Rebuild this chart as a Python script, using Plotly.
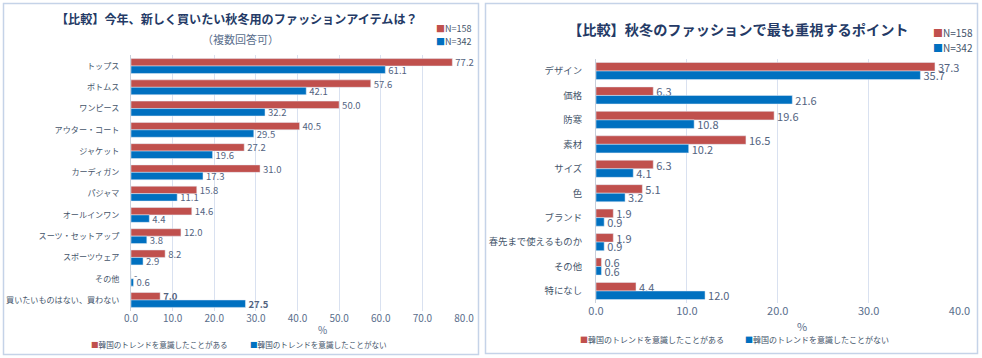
import plotly.graph_objects as go

# ---------------- data ----------------
left_categories = ["トップス", "ボトムス", "ワンピース", "アウター・コート", "ジャケット", "カーディガン",
                   "パジャマ", "オールインワン", "スーツ・セットアップ", "スポーツウェア", "その他",
                   "買いたいものはない、買わない"]
left_aware = [77.2, 57.6, 50.0, 40.5, 27.2, 31.0, 15.8, 14.6, 12.0, 8.2, 0.0, 7.0]
left_not_aware = [61.1, 42.1, 32.2, 29.5, 19.6, 17.3, 11.1, 4.4, 3.8, 2.9, 0.6, 27.5]
left_ticks = [0, 10, 20, 30, 40, 50, 60, 70, 80]

right_categories = ["デザイン", "価格", "防寒", "素材", "サイズ", "色", "ブランド",
                    "春先まで使えるものか", "その他", "特になし"]
right_aware = [37.3, 6.3, 19.6, 16.5, 6.3, 5.1, 1.9, 1.9, 0.6, 4.4]
right_not_aware = [35.7, 21.6, 10.8, 10.2, 4.1, 3.2, 0.9, 0.9, 0.6, 12.0]
right_ticks = [0, 10, 20, 30, 40]

series_names = ["韓国のトレンドを意識したことがある", "韓国のトレンドを意識したことがない"]
n_labels = ["N=158", "N=342"]
left_title = "【比較】今年、新しく買いたい秋冬用のファッションアイテムは？"
left_subtitle = "（複数回答可）"
right_title = "【比較】秋冬のファッションで最も重視するポイント"

# ---------------- style ----------------
W, H = 982, 358
RED = "#C0504D"
BLUE = "#0070C0"
TXT = "#44546A"
VAL = "#53637F"
TICK = "#5A6E8C"
GRID = "#D9E1F0"
TITLE = "#243A66"
FONT = "Noto Sans CJK JP"


def px_x(x):
    return x / W


def px_y(y):
    return 1 - y / H


def label_texts(vals, bold_last=False, zero_dash=False):
    out = []
    for i, v in enumerate(vals):
        if zero_dash and v == 0:
            s = "-"
        else:
            s = f"{v:.1f}"
        if bold_last and i == len(vals) - 1:
            s = f"<b>{s}</b>"
        out.append(s)
    return out


fig = go.Figure()

LV = 9.5
RV = 11
# left panel
fig.add_trace(go.Bar(y=left_categories, x=left_aware, orientation="h", marker_color=RED,
                     name=series_names[0], text=label_texts(left_aware, True, True),
                     textposition="outside", cliponaxis=False, constraintext="none",
                     textfont=dict(color=VAL, size=LV), xaxis="x", yaxis="y"))
fig.add_trace(go.Bar(y=left_categories, x=left_not_aware, orientation="h", marker_color=BLUE,
                     name=series_names[1], text=label_texts(left_not_aware, True),
                     textposition="outside", cliponaxis=False, constraintext="none",
                     textfont=dict(color=VAL, size=LV), xaxis="x", yaxis="y"))
# right panel
fig.add_trace(go.Bar(y=right_categories, x=right_aware, orientation="h", marker_color=RED,
                     name=series_names[0], text=label_texts(right_aware),
                     textposition="outside", cliponaxis=False, constraintext="none",
                     textfont=dict(color=VAL, size=RV), xaxis="x2", yaxis="y2"))
fig.add_trace(go.Bar(y=right_categories, x=right_not_aware, orientation="h", marker_color=BLUE,
                     name=series_names[1], text=label_texts(right_not_aware),
                     textposition="outside", cliponaxis=False, constraintext="none",
                     textfont=dict(color=VAL, size=RV), xaxis="x2", yaxis="y2"))

fig.update_layout(
    width=W, height=H,
    margin=dict(l=0, r=0, t=0, b=0, autoexpand=False),
    paper_bgcolor="white", plot_bgcolor="white",
    font=dict(family=FONT, color=TXT),
    showlegend=False,
    barmode="group", bargap=0.3, bargroupgap=0.0,
    xaxis=dict(domain=[px_x(131), px_x(464)], range=[0, 80], tickvals=left_ticks,
               ticktext=[f"{t:.1f}" for t in left_ticks], showgrid=True, gridcolor=GRID,
               gridwidth=1, zeroline=False, tickfont=dict(size=10, color=TICK),
               anchor="y", automargin=False),
    yaxis=dict(domain=[px_y(310.6), px_y(55.4)], autorange="reversed", type="category",
               tickfont=dict(size=8.1, color=TXT), ticklabelstandoff=9, showline=True,
               linecolor="#C8CFDA", anchor="x", automargin=False),
    xaxis2=dict(domain=[px_x(596), px_x(959.5)], range=[0, 40], tickvals=right_ticks,
                ticktext=[f"{t:.1f}" for t in right_ticks], showgrid=True, gridcolor=GRID,
                gridwidth=1, zeroline=False, tickfont=dict(size=11, color=TICK),
                anchor="y2", automargin=False),
    yaxis2=dict(domain=[px_y(303.2), px_y(58.8)], autorange="reversed", type="category",
                tickfont=dict(size=9.4, color=TXT), ticklabelstandoff=11, showline=True,
                linecolor="#C8CFDA", anchor="x2", automargin=False),
)

# panel borders
for x0, x1, y0, y1 in [(3.5, 478.5, 3.5, 354.5), (485.5, 977.5, 3.5, 353.5)]:
    fig.add_shape(type="rect", xref="paper", yref="paper", x0=px_x(x0), x1=px_x(x1),
                  y0=px_y(y1), y1=px_y(y0), line=dict(color="#C5D3E8", width=1.5),
                  fillcolor="rgba(0,0,0,0)", layer="below")

ann = []
P = dict(xref="paper", yref="paper", showarrow=False, yanchor="middle")
# titles
ann.append(dict(x=px_x(237), y=px_y(18), text=f"<b>{left_title}</b>",
                font=dict(size=12.1, color=TITLE), xanchor="center", **P))
ann.append(dict(x=px_x(240), y=px_y(39), text=left_subtitle,
                font=dict(size=11, color=TICK), xanchor="center", **P))
ann.append(dict(x=px_x(738), y=px_y(29), text=f"<b>{right_title}</b>",
                font=dict(size=14.2, color=TITLE), xanchor="center", **P))

# N legends
for (x, ys, size) in [(434, (28, 41), 9), (931, (32, 47), 10)]:
    for lab, col, yy in zip(n_labels, [RED, BLUE], ys):
        ann.append(dict(x=px_x(x), y=px_y(yy),
                        text=f"<span style='color:{col}'>■</span>{lab}",
                        font=dict(size=size, color=TXT), xanchor="left", **P))

# % axis titles
ann.append(dict(x=px_x(322), y=px_y(329), text="%",
                font=dict(size=10, color=TICK), xanchor="center", **P))
ann.append(dict(x=px_x(802), y=px_y(326), text="%",
                font=dict(size=11, color=TICK), xanchor="center", **P))

# bottom legends
for (xs, yy, size) in [((89, 248), 344, 7.6), ((578, 743), 339, 8)]:
    for lab, col, x in zip(series_names, [RED, BLUE], xs):
        ann.append(dict(x=px_x(x), y=px_y(yy),
                        text=f"<span style='color:{col}'>■</span>{lab}",
                        font=dict(size=size, color=TXT), xanchor="left", **P))

fig.update_layout(annotations=ann)

fig.write_html("out.html", config={"displayModeBar": False},
               post_script="document.body.style.margin='0';document.body.style.padding='0';")
